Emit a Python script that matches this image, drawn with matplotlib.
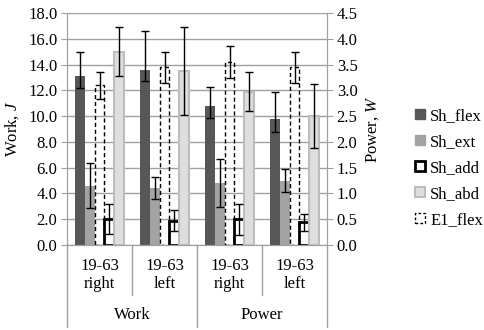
import numpy as np
import matplotlib.pyplot as plt
from matplotlib.patches import Patch

plt.rcParams['font.family'] = 'Liberation Serif'
plt.rcParams['mathtext.fontset'] = 'custom'
plt.rcParams['mathtext.it'] = 'Liberation Serif:italic'
plt.rcParams['font.size'] = 12

# groups: Work (J) for right/left, then Power (W) for right/left
sides = ['19-63\nright', '19-63\nleft', '19-63\nright', '19-63\nleft']
measures = ['Work', 'Power']

flex = [13.1, 13.6, 2.70, 2.45]
flex_lo = [0.9, 0.85, 0.23, 0.25]
flex_hi = [1.9, 3.0, 0.36, 0.52]

ext = [4.6, 4.4, 1.20, 1.25]
ext_err = [1.75, 0.85, 0.47, 0.22]

add = [2.0, 1.9, 0.50, 0.44]
add_err = [1.15, 0.8, 0.30, 0.17]

abd = [15.0, 13.5, 2.97, 2.50]
abd_err = [1.9, 3.4, 0.38, 0.62]

e1 = [12.4, 13.8, 3.55, 3.45]
e1_err = [1.05, 1.2, 0.31, 0.30]

fig = plt.figure(figsize=(4.85, 3.3), dpi=100)
ax = fig.add_axes([67/485, 85/330, 260/485, 232/330])
ax2 = ax.twinx()

grid_c = '#a0a0a0'
w = 0.15
x = np.arange(4)

styles = {
    'flex': dict(color='#575757', lw=0),
    'ext': dict(color='#a3a3a3', lw=0),
    'e1': dict(facecolor='none', edgecolor='black', lw=1.0, linestyle=(0, (3, 2))),
    'add': dict(facecolor='white', edgecolor='black', lw=2.0),
    'abd': dict(facecolor='#dedede', edgecolor='#bdbdbd', lw=1.5),
}
series = [
    ('flex', -2, flex, [flex_lo, flex_hi]),
    ('ext', -1, ext, [ext_err, ext_err]),
    ('e1', 0, e1, [e1_err, e1_err]),
    ('add', 1, add, [add_err, add_err]),
    ('abd', 2, abd, [abd_err, abd_err]),
]

for name, k, vals, err in series:
    for axis, idx in ((ax, [0, 1]), (ax2, [2, 3])):
        xs = x[idx] + k * w
        v = [vals[i] for i in idx]
        e = [[err[0][i] for i in idx], [err[1][i] for i in idx]]
        axis.bar(xs, v, width=w, **styles[name], zorder=2)
        axis.errorbar(xs, v, yerr=e, fmt='none', ecolor='black',
                      elinewidth=1, capsize=3, capthick=1, zorder=3)

ax.set_xlim(-0.5, 3.5)
ax.set_ylim(0, 18)
ax2.set_ylim(0, 4.5)
ax.set_yticks(np.arange(0, 18.1, 2))
ax.set_yticklabels([f'{v:.1f}' for v in np.arange(0, 18.1, 2)])
ax2.set_yticks(np.arange(0, 4.51, 0.5))
ax2.set_yticklabels([f'{v:.1f}' for v in np.arange(0, 4.51, 0.5)])
ax.set_xticks([])
ax.yaxis.grid(True, color=grid_c, lw=1)
ax.set_axisbelow(True)

for a in (ax, ax2):
    for s in a.spines.values():
        s.set_color(grid_c)
    a.spines['top'].set_visible(False)
    a.tick_params(axis='y', length=4, color=grid_c, pad=3)

ax.text(-0.21, 0.5, 'Work, $\\mathit{J}$', transform=ax.transAxes,
        rotation=90, ha='center', va='center')
ax2.text(1.177, 0.5, 'Power, $\\mathit{W}$', transform=ax.transAxes,
         rotation=90, ha='center', va='center')

# two-level category axis below the plot
tr = ax.get_xaxis_transform()
for b in [-0.5, 0.5, 1.5, 2.5, 3.5]:
    depth = -0.215 if b in (0.5, 2.5) else -0.355
    ax.plot([b, b], [0, depth], transform=tr, color=grid_c, lw=1, clip_on=False)
for i, lab in enumerate(sides):
    ax.text(i, -0.13, lab, transform=tr, ha='center', va='center', linespacing=1.2)
for i, lab in enumerate(measures):
    ax.text(2 * i + 0.5, -0.30, lab, transform=tr, ha='center', va='center')

handles = [
    Patch(color='#575757', label='Sh_flex'),
    Patch(color='#a3a3a3', label='Sh_ext'),
    Patch(facecolor='white', edgecolor='black', lw=2, label='Sh_add'),
    Patch(facecolor='#dedede', edgecolor='#bdbdbd', lw=1.5, label='Sh_abd'),
    Patch(facecolor='none', edgecolor='black', lw=1, linestyle=(0, (2, 1.5)), label='E1_flex'),
]
fig.legend(handles=handles, loc='center left', bbox_to_anchor=(407/485, 1 - 168/330),
           frameon=False, handlelength=0.6, handleheight=0.6, handletextpad=0.3,
           labelspacing=0.6, borderpad=0)

fig.savefig('out.png', dpi=100)
